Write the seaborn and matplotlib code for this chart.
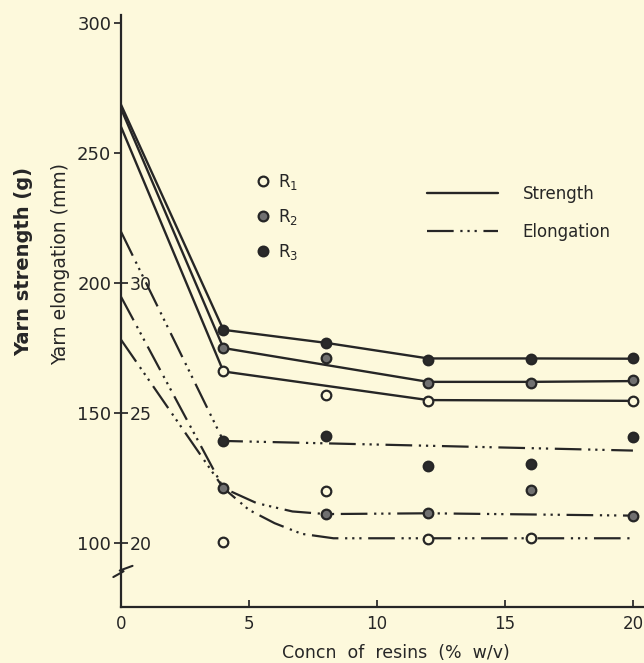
import numpy as np
import pandas as pd
import matplotlib
matplotlib.use("Agg")
import matplotlib.pyplot as plt
import seaborn as sns
from matplotlib.lines import Line2D

# strength curves (g), drawn as solid lines
str_x_r1 = [0, 4, 12, 20]
str_y_r1 = [260, 166, 155, 154.7]
str_x_r2 = [0, 4, 12, 16, 20]
str_y_r2 = [267, 175, 162, 162, 162.3]
str_x_r3 = [0, 4, 8, 12, 16, 20]
str_y_r3 = [268.5, 182, 177, 171, 171, 170.9]

# strength measured points (g)
pts_str_x_r1 = [4, 8, 12, 20]
pts_str_y_r1 = [166.0, 156.8, 154.8, 154.7]
pts_str_x_r2 = [4, 8, 12, 16, 20]
pts_str_y_r2 = [175.0, 171.2, 161.5, 161.5, 162.8]
pts_str_x_r3 = [4, 8, 12, 16, 20]
pts_str_y_r3 = [182.0, 176.9, 170.5, 170.8, 171.2]

# elongation curves (mm), dash-dot-dot lines
elo_x_a = [0, 4, 20]
elo_y_a = [31.97, 23.93, 23.56]
elo_x_b = [0, 4, 5.3, 6.7, 8, 12, 20]
elo_y_b = [29.47, 22.12, 21.54, 21.22, 21.12, 21.15, 21.06]
elo_x_c = [0, 4, 5.0, 6.0, 7.06, 8.3, 20]
elo_y_c = [27.82, 22.12, 21.28, 20.77, 20.36, 20.19, 20.19]

# elongation measured points (mm)
pts_elo_x_r1 = [4, 8, 12, 16]
pts_elo_y_r1 = [20.06, 22.01, 20.15, 20.19]
pts_elo_x_r2 = [4, 8, 12, 16, 20]
pts_elo_y_r2 = [22.12, 21.12, 21.15, 22.05, 21.06]
pts_elo_x_r3 = [4, 8, 12, 16, 20]
pts_elo_y_r3 = [23.93, 24.13, 22.98, 23.04, 24.08]

x_ticks = [0, 5, 10, 15, 20]
str_ticks = [100, 150, 200, 250, 300]
elo_ticks = [20, 25, 30]

bg = "#fdf9dc"
ink = "#262626"
face = {"R1": bg, "R2": "#707070", "R3": "#2a2a2a"}
elo_ls = (0, (12, 3, 1, 2.2, 1, 2.2, 1, 3))


def mm_to_g(mm):
    return (np.asarray(mm) - 10) * 10


def g_to_mm(g):
    return np.asarray(g) / 10 + 10


sns.set_theme(style="ticks", rc={
    "axes.facecolor": bg, "figure.facecolor": bg,
    "axes.edgecolor": ink, "xtick.color": ink, "ytick.color": ink,
    "text.color": ink, "axes.labelcolor": ink,
})
plt.rcParams["font.family"] = ["DejaVu Sans"]

fig = plt.figure(figsize=(6.44, 6.63), dpi=100)
ax = fig.add_axes([0.1879, 0.0845, 0.812, 0.893])

# strength lines
for xs, ys in [(str_x_r1, str_y_r1), (str_x_r2, str_y_r2), (str_x_r3, str_y_r3)]:
    sns.lineplot(x=xs, y=ys, ax=ax, color=ink, lw=1.7, estimator=None, sort=False)

# elongation lines (plotted on the strength scale)
for xs, ys in [(elo_x_a, elo_y_a), (elo_x_b, elo_y_b), (elo_x_c, elo_y_c)]:
    sns.lineplot(x=xs, y=mm_to_g(ys), ax=ax, color=ink, lw=1.6,
                 linestyle=elo_ls, estimator=None, sort=False)

# markers
groups = [
    ("R1", pts_str_x_r1, pts_str_y_r1), ("R2", pts_str_x_r2, pts_str_y_r2),
    ("R3", pts_str_x_r3, pts_str_y_r3),
    ("R1", pts_elo_x_r1, mm_to_g(pts_elo_y_r1)), ("R2", pts_elo_x_r2, mm_to_g(pts_elo_y_r2)),
    ("R3", pts_elo_x_r3, mm_to_g(pts_elo_y_r3)),
]
for r, xs, ys in groups:
    sns.scatterplot(x=xs, y=ys, ax=ax, marker="o", s=48, color=face[r],
                    edgecolor=ink, linewidth=1.6, zorder=4)

ax.set_xlim(0, 20.43)
ax.set_ylim(75.5, 303)
sns.despine(ax=ax)
ax.set_xticks(x_ticks)
ax.set_yticks(str_ticks)
ax.tick_params(axis="x", direction="in", length=5, labelsize=12, pad=6)
ax.tick_params(axis="y", direction="out", length=5, labelsize=13, pad=2)
ax.spines["left"].set_linewidth(1.6)
ax.spines["bottom"].set_linewidth(1.6)

# elongation axis on the same spine, ticks and labels inside
sec = ax.secondary_yaxis("left", functions=(g_to_mm, mm_to_g))
sec.set_alignment("right")
sec.set_yticks(elo_ticks)
sec.tick_params(direction="out", length=5, labelsize=12.5, pad=1, colors=ink)
sec.spines["right"].set_visible(False)

# axis break mark
ax.plot([-0.3, 0.1, -0.05, 0.45], [87.0, 89.2, 89.5, 91.3], color=ink, lw=1.5,
        clip_on=False, zorder=5)

ax.set_xlabel("Concn  of  resins  (%  w/v)", fontsize=12.5)
ax.xaxis.set_label_coords(0.526, -0.063)
ax.set_ylabel("Yarn strength (g)", fontsize=14, fontweight="bold")
ax.yaxis.set_label_coords(-0.168, 0.583)
ax.text(-0.0975, 0.579, "Yarn elongation (mm)", transform=ax.transAxes, rotation=90,
        ha="center", va="bottom", rotation_mode="anchor", fontsize=13.5)

mk = [Line2D([], [], ls="none", marker="o", markersize=7, mfc=face[r], mec=ink, mew=1.6)
      for r in ["R1", "R2", "R3"]]
leg1 = ax.legend(mk, [r"$\mathregular{R_1}$", r"$\mathregular{R_2}$", r"$\mathregular{R_3}$"],
                 loc="upper left", bbox_to_anchor=(0.258, 0.735), frameon=False,
                 fontsize=12, handlelength=0.8, handletextpad=0.5, labelspacing=0.9,
                 borderpad=0, borderaxespad=0)
ax.add_artist(leg1)
ln = [Line2D([], [], color=ink, lw=1.7),
      Line2D([], [], color=ink, lw=1.6, ls=elo_ls)]
ax.legend(ln, ["Strength", "Elongation"], loc="upper left", bbox_to_anchor=(0.585, 0.713),
          frameon=False, fontsize=12, handlelength=4.25, handletextpad=1.5,
          labelspacing=1.2, borderpad=0, borderaxespad=0)

fig.savefig("out.png", dpi=100, facecolor=bg)
